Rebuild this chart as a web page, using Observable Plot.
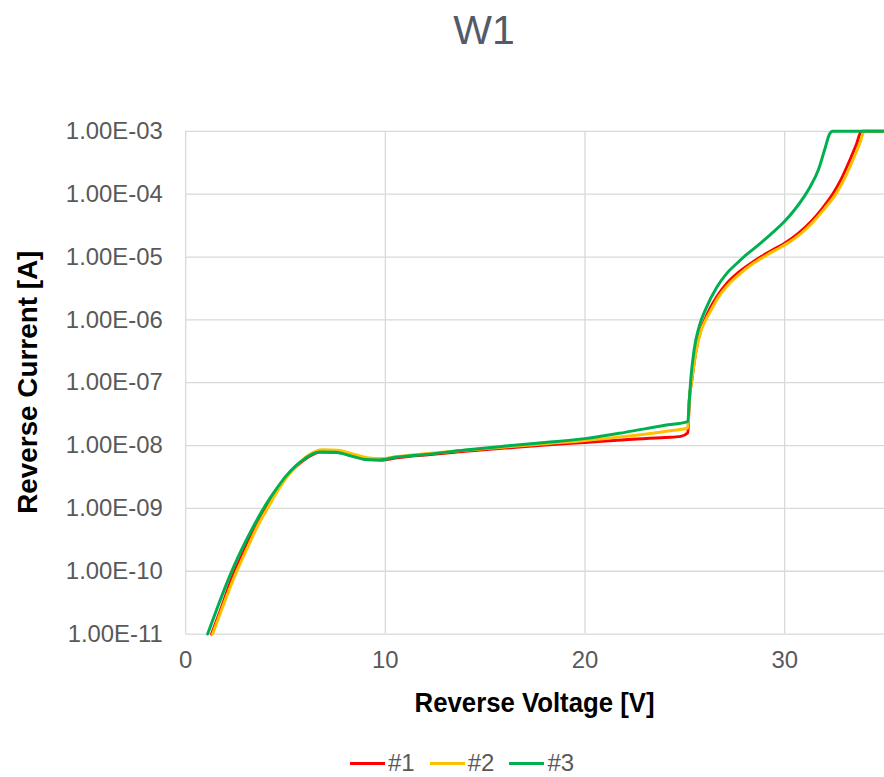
<!DOCTYPE html>
<html>
<head>
<meta charset="utf-8">
<script src="https://cdn.jsdelivr.net/npm/d3@7"></script>
<script src="https://cdn.jsdelivr.net/npm/@observablehq/plot@0.6"></script>
<style>
  html, body { margin: 0; padding: 0; background: #fff; overflow: hidden; width: 884px; height: 777px; }
  body { position: relative; font-family: "Liberation Sans", Arial, sans-serif; }
  #title { position: absolute; top: 10px; left: 0; width: 968px; text-align: center;
           font-size: 41px; line-height: 41px; color: #525b69; }
  #chart { position: absolute; top: 100px; left: 0; }
  #legend { position: absolute; top: 750px; left: 350px; display: flex; align-items: center;
            font-size: 24px; line-height: 26px; color: #595959; }
  #legend .item { display: flex; align-items: center; margin-right: 15px; }
  #legend .swatch { width: 35px; height: 3px; margin-right: 3px; }
</style>
</head>
<body>
<div id="title">W1</div>
<div id="chart"></div>
<div id="legend"></div>
<script>
// Reverse I-V sweeps of three devices on wafer W1
const seriesNames = ["#1", "#2", "#3"];
const seriesColors = ["#ff0000", "#ffc000", "#00b050"];

// #1 : reverse voltage [V] and reverse current [A]
const voltage1 = [1.3, 1.8, 2.35, 2.95, 3.5, 4.0, 4.55, 5.05, 5.55, 6.05, 6.75, 7.6, 8.4, 9.1, 9.8, 10.6,
  12, 14, 16, 18, 20, 22, 24, 24.8, 25.15, 25.22, 25.35, 25.55, 25.8, 26.0, 26.3,
  26.6, 27.1, 27.6, 28.3, 29.0, 29.5, 30.0, 30.7, 31.3, 31.9, 32.45, 32.8, 33.3, 33.6, 33.85, 35];
const current1 = [1e-11, 2.7e-11, 8.3e-11, 2.2e-10, 5.2e-10, 1e-9, 1.95e-9, 3.2e-9, 4.7e-9, 6.3e-9, 7.9e-9,
  7.8e-9, 6.8e-9, 6.0e-9, 5.9e-9, 6.4e-9,
  7.1e-9, 8.1e-9, 9.1e-9, 1.02e-8, 1.12e-8, 1.24e-8, 1.34e-8, 1.4e-8, 1.6e-8, 5e-8, 1.1e-7, 3.1e-7, 6.9e-7,
  1.0e-6, 1.6e-6, 2.34e-6, 3.8e-6, 5.4e-6, 7.9e-6, 1.1e-5, 1.35e-5, 1.66e-5, 2.4e-5, 3.6e-5, 6.0e-5,
  1.05e-4, 1.66e-4, 3.7e-4, 6.3e-4, 1e-3, 1e-3];

// #2
const voltage2 = [1.35, 1.85, 2.45, 3.05, 3.6, 4.1, 4.65, 5.15, 5.65, 6.15, 6.85, 7.6, 8.4, 9.1, 9.8, 10.6,
  12, 14, 16, 18, 20, 22, 24, 25.15, 25.22, 25.35, 25.55, 25.8, 26.05, 26.4, 26.7,
  27.2, 27.7, 28.4, 29.1, 29.6, 30.1, 30.8, 31.4, 32.0, 32.6, 32.95, 33.45, 33.75, 34.0, 35];
const current2 = [1e-11, 2.7e-11, 8.3e-11, 2.2e-10, 5.2e-10, 1e-9, 2.0e-9, 3.4e-9, 5.1e-9, 7.0e-9, 8.6e-9,
  8.4e-9, 7.3e-9, 6.4e-9, 6.2e-9, 6.7e-9,
  7.4e-9, 8.4e-9, 9.5e-9, 1.07e-8, 1.2e-8, 1.4e-8, 1.68e-8, 1.9e-8, 5e-8, 1.1e-7, 3.0e-7, 6.6e-7,
  1.0e-6, 1.6e-6, 2.34e-6, 3.7e-6, 5.2e-6, 7.8e-6, 1.07e-5, 1.32e-5, 1.62e-5, 2.34e-5, 3.55e-5, 5.9e-5,
  1.05e-4, 1.66e-4, 3.7e-4, 6.3e-4, 1e-3, 1e-3];

// #3
const voltage3 = [1.1, 1.6, 2.2, 2.8, 3.4, 3.9, 4.5, 5.0, 5.5, 6.0, 6.7, 7.5, 8.3, 9.0, 9.7, 10.5,
  12, 14, 16, 18, 20, 22, 24, 25.15, 25.22, 25.3, 25.47, 25.72, 26.05, 26.6, 27.1, 27.6,
  28.1, 28.6, 29.3, 30.0, 30.45, 30.95, 31.3, 31.7, 32.04, 32.25, 32.4, 35];
const current3 = [1e-11, 2.7e-11, 8.3e-11, 2.2e-10, 5.2e-10, 1e-9, 1.95e-9, 3.2e-9, 4.7e-9, 6.3e-9, 7.9e-9,
  7.8e-9, 6.8e-9, 6.0e-9, 5.9e-9, 6.5e-9,
  7.2e-9, 8.5e-9, 9.8e-9, 1.12e-8, 1.29e-8, 1.62e-8, 2.1e-8, 2.4e-8, 5e-8, 1.15e-7, 3.4e-7, 7.9e-7,
  1.5e-6, 3.3e-6, 5.5e-6, 7.9e-6, 1.1e-5, 1.48e-5, 2.3e-5, 3.7e-5, 5.4e-5, 8.9e-5, 1.35e-4, 2.5e-4,
  5.6e-4, 9.1e-4, 1e-3, 1e-3];

// Axis ticks
const xTicks = [0, 10, 20, 30];
const yTicks = [1e-3, 1e-4, 1e-5, 1e-6, 1e-7, 1e-8, 1e-9, 1e-10, 1e-11];
const yTickLabels = ["1.00E-03", "1.00E-04", "1.00E-05", "1.00E-06", "1.00E-07",
  "1.00E-08", "1.00E-09", "1.00E-10", "1.00E-11"];

const voltages = [voltage1, voltage2, voltage3];
const currents = [current1, current2, current3];
const rows = seriesNames.flatMap((name, s) =>
  voltages[s].map((v, k) => ({series: name, v, i: currents[s][k]})));

const gridColor = "#d9d9d9";

const plot = Plot.plot({
  width: 888,
  height: 640,
  marginTop: 31,
  marginBottom: 104,
  marginLeft: 186,
  marginRight: 0,
  style: {fontFamily: "'Liberation Sans', Arial, sans-serif", fontSize: "24px", color: "#595959", background: "#fff", overflow: "visible"},
  x: {domain: [0, 35]},
  y: {type: "log", domain: [1e-11, 1e-3]},
  color: {domain: seriesNames, range: seriesColors},
  marks: [
    Plot.gridX(xTicks, {stroke: gridColor, strokeOpacity: 1, strokeWidth: 1.3}),
    Plot.gridY(yTicks, {stroke: gridColor, strokeOpacity: 1, strokeWidth: 1.3}),
    Plot.axisX(xTicks, {tickSize: 0, tickPadding: 17, label: null, fill: "#595959"}),
    Plot.axisY(yTicks, {tickSize: 0, tickPadding: 23, label: null, fill: "#595959",
      tickFormat: d => yTickLabels[yTicks.indexOf(d)]}),
    Plot.line(rows, {x: "v", y: "i", z: "series", stroke: "series", strokeWidth: 3,
      curve: "monotone-x", strokeLinejoin: "round"})
  ]
});

// Axis titles
const svg = d3.select(plot);
const xr = plot.scale("x").range;
const yr = plot.scale("y").range;
svg.append("text")
  .attr("x", (xr[0] + xr[1]) / 2)
  .attr("y", 615)
  .attr("text-anchor", "middle")
  .attr("font-weight", "bold")
  .attr("font-size", 27)
  .attr("fill", "#000")
  .attr("textLength", 241)
  .attr("lengthAdjust", "spacingAndGlyphs")
  .text("Reverse Voltage [V]");
svg.append("text")
  .attr("transform", `translate(37,${(yr[0] + yr[1]) / 2}) rotate(-90)`)
  .attr("text-anchor", "middle")
  .attr("font-weight", "bold")
  .attr("font-size", 28)
  .attr("fill", "#000")
  .text("Reverse Current [A]");

document.getElementById("chart").appendChild(plot);

// Legend
const legend = document.getElementById("legend");
seriesNames.forEach((name, k) => {
  const item = document.createElement("div");
  item.className = "item";
  const sw = document.createElement("span");
  sw.className = "swatch";
  sw.style.background = seriesColors[k];
  const label = document.createElement("span");
  label.textContent = name;
  item.appendChild(sw);
  item.appendChild(label);
  legend.appendChild(item);
});
</script>
</body>
</html>
